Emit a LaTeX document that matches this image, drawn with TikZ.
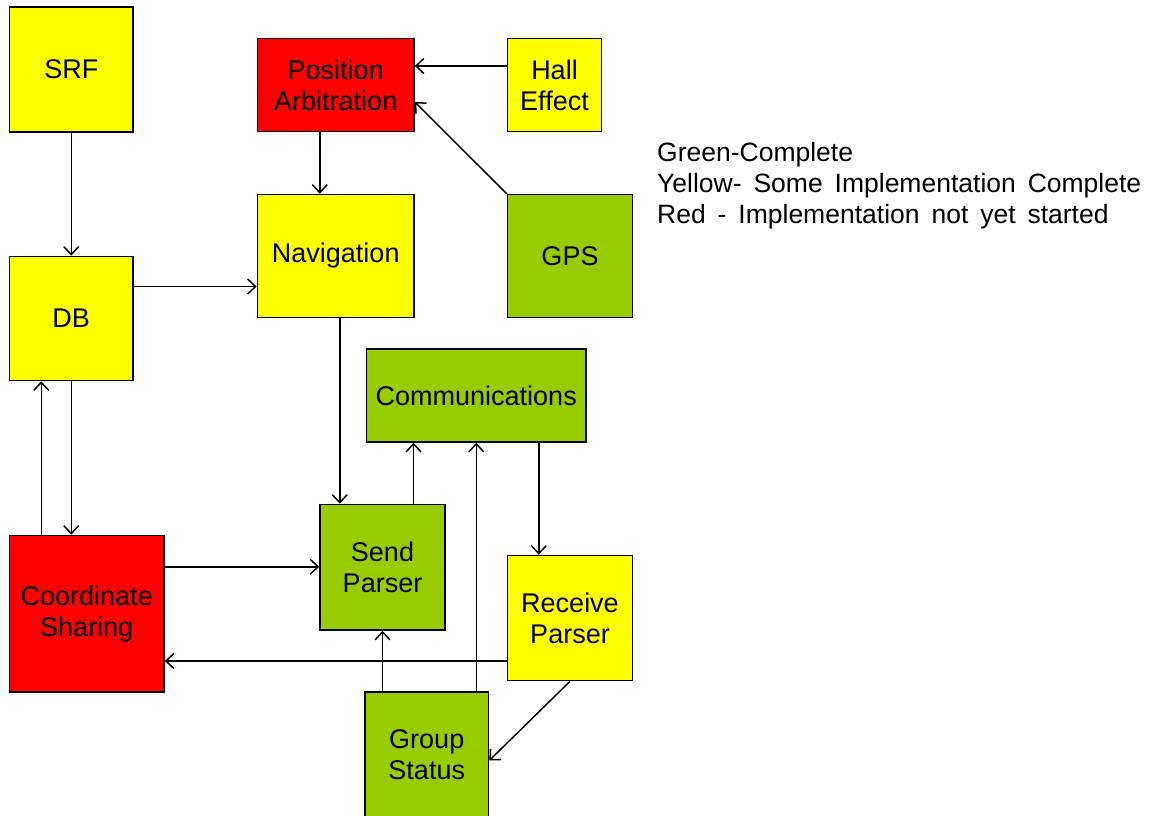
\documentclass[tikz,border=0pt]{standalone}
\usepackage{fontspec}
\setmainfont{Liberation Sans}
\usetikzlibrary{positioning,arrows.meta}
\definecolor{doneGreen}{RGB}{153,204,0}
\definecolor{someYellow}{RGB}{255,255,0}
\definecolor{notRed}{RGB}{255,0,0}
\tikzset{
  statbox/.style={draw=black, line width=1.6pt, align=center, inner sep=1pt,
    font=\fontsize{27}{31}\selectfont},
  link/.style={-{Straight Barb[length=8pt,width=15pt,line width=1.5pt]}, line width=1.5pt}
}
% #1 name, #2 #3 top left, #4 #5 bottom right, #6 colour, #7 text
\newcommand{\statbox}[7]{
  \node[statbox, fill=#6, minimum width={#4-#2}, minimum height={#5-#3}]
    (#1) at ({(#2+#4)/2},{(#3+#5)/2}) {#7};
}

\begin{document}
\begin{tikzpicture}[x=1pt,y=-1pt]
\useasboundingbox (0,0) rectangle (1151,816);
\statbox{srf}{9.5}{7}{133}{132}{someYellow}{SRF}
\statbox{pos}{257.5}{38.5}{414}{131.5}{notRed}{Position\\Arbitration}
\statbox{hall}{507.5}{38.5}{601.5}{131.5}{someYellow}{Hall\\Effect}
\statbox{nav}{257.5}{194.5}{414}{317.5}{someYellow}{Navigation}
\statbox{gps}{507.5}{194.5}{632.5}{317.5}{doneGreen}{GPS}
\statbox{db}{9.5}{256.5}{133}{380.5}{someYellow}{DB}
\statbox{comms}{366.5}{349}{586}{442}{doneGreen}{Communications}
\statbox{send}{320}{504.5}{445}{630}{doneGreen}{Send\\Parser}
\statbox{recv}{507.5}{555.5}{632.5}{680.5}{someYellow}{Receive\\Parser}
\statbox{coord}{9.5}{535.5}{164}{692}{notRed}{Coordinate\\Sharing}
\statbox{group}{365}{692}{488.5}{817}{doneGreen}{Group\\Status}

% legend
\node[anchor=west, align=left, inner sep=0pt,
  font={\fontsize{26.5}{31}\selectfont\spaceskip=0.45em\relax}]
  (legend) at (657,186) {Green-Complete\\Yellow- Some Implementation Complete\\Red - Implementation not yet started};

% connectors
\draw[link] (srf.south) -- (db.north);
\draw[link] ([yshift=19pt]hall.west) -- ([yshift=19pt]hall.west -| pos.east);
\draw[link] (gps.north west) -- ([yshift=-17pt]pos.east);
\draw[link] ([xshift=-16pt]pos.south) -- ([xshift=-16pt]pos.south |- nav.north);
\draw[link] ([yshift=32pt]db.east) -- ([yshift=32pt]db.east -| nav.west);
\draw[link] ([xshift=4pt]nav.south) -- ([xshift=4pt]nav.south |- send.north);
\draw[link] ([xshift=-30pt]db.south |- coord.north) -- ([xshift=-30pt]db.south);
\draw[link] (db.south) -- (db.south |- coord.north);
\draw[link] ([yshift=47pt]coord.east) -- ([yshift=47pt]coord.east -| send.west);
\draw[link] ([xshift=31pt]send.north) -- ([xshift=31pt]send.north |- comms.south);
\draw[link] ([xshift=49.5pt]group.north) -- ([xshift=49.5pt]group.north |- comms.south);
\draw[link] ([xshift=62.5pt]comms.south) -- ([xshift=62.5pt]comms.south |- recv.north);
\draw[link] ([yshift=-43pt]recv.west) -- ([yshift=-43pt]recv.west -| coord.east);
\draw[link] (send.south |- group.north) -- (send.south);
\draw[link] (recv.south) -- ([yshift=-6pt]group.east);
\end{tikzpicture}
\end{document}
